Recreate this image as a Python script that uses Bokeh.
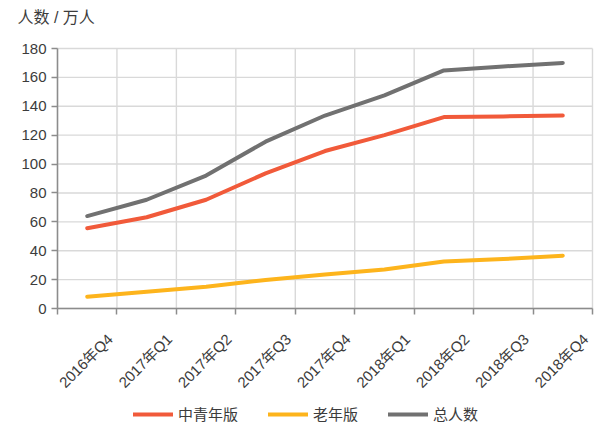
import math
from bokeh.plotting import figure
from bokeh.models import FixedTicker, Range1d, Legend, LegendItem, Label, LinearAxis
from bokeh.embed import file_html
from bokeh.resources import INLINE

quarters = ["2016年Q4", "2017年Q1", "2017年Q2", "2017年Q3", "2017年Q4",
            "2018年Q1", "2018年Q2", "2018年Q3", "2018年Q4"]
youth = [55.6, 63.2, 75.3, 93.5, 109, 120, 132.5, 133, 133.6]
senior = [8.2, 11.6, 15, 19.8, 23.5, 27, 32.5, 34.2, 36.5]
total = [64, 75.3, 92, 115.5, 133.6, 147.5, 164.8, 167.6, 170]
series_names = ["中青年版", "老年版", "总人数"]
colors = ["#F15A3A", "#FDB41C", "#717171"]
y_ticks = [0, 20, 40, 60, 80, 100, 120, 140, 160, 180]
y_title = "人数 / 万人"

FONT = "Liberation Sans, Noto Sans CJK SC"
TXT = "#3c3c3c"
GRID = "#d9d9d9"
AXIS = "#8c8c8c"

# layout (pixels)
W, H = 614, 427
PL, PR, PT, PB = 57, 592, 48, 308   # plot area edges
LABEL_SHIFT_PX = 7
n = len(quarters)
ymax = y_ticks[-1]
ppx = (PR - PL) / n
ppy = (PB - PT) / ymax
x_ticks = list(range(n + 1))

xs = [i + 0.5 for i in range(n)]

xl, xr = -PL / ppx, n + (W - PR) / ppx
p = figure(width=W, height=H, output_backend="svg", toolbar_location=None,
           x_range=Range1d(xl, xr),
           y_range=Range1d(-(H - PB) / ppy, ymax + PT / ppy),
           min_border=0)
p.title.visible = False
p.outline_line_color = None
p.background_fill_color = "white"
p.border_fill_color = "white"
p.grid.visible = False

# grid lines limited to the plot area
p.segment(x0=x_ticks, y0=[0] * len(x_ticks), x1=x_ticks, y1=[ymax] * len(x_ticks),
          line_color=GRID, line_width=1.4, level="underlay")
p.segment(x0=[0] * len(y_ticks), y0=y_ticks, x1=[n] * len(y_ticks), y1=y_ticks,
          line_color=GRID, line_width=1.4, level="underlay")

# axes
p.xaxis.fixed_location = 0
p.yaxis.fixed_location = 0
p.xaxis.bounds = (0, n)
p.yaxis.bounds = (0, ymax)
p.xaxis.ticker = FixedTicker(ticks=x_ticks)
p.xaxis.major_label_text_alpha = 0
p.yaxis.ticker = FixedTicker(ticks=y_ticks)

# separate label axis, shifted slightly left
shift = LABEL_SHIFT_PX / ppx
p.extra_x_ranges = {"lab": Range1d(xl + shift, xr + shift)}
lab_axis = LinearAxis(x_range_name="lab", fixed_location=0,
                      ticker=FixedTicker(ticks=x_ticks[1:]),
                      major_label_overrides={i + 1: q for i, q in enumerate(quarters)},
                      major_label_orientation=math.pi / 4,
                      axis_line_color=None, major_tick_line_color=None)
p.add_layout(lab_axis, "below")

for ax in (p.xaxis[0], p.yaxis[0], lab_axis):
    ax.major_tick_out = 6
    ax.major_tick_in = 0
    ax.minor_tick_line_color = None
    ax.major_label_text_font = FONT
    ax.major_label_text_font_size = "15px"
    ax.major_label_text_color = TXT
for ax in (p.xaxis[0], p.yaxis[0]):
    ax.axis_line_color = AXIS
    ax.axis_line_width = 1.5
    ax.major_tick_line_color = AXIS
    ax.major_tick_line_width = 1.5
p.yaxis.major_label_standoff = 5
lab_axis.major_label_standoff = 22

renderers = []
for vals, c in zip([youth, senior, total], colors):
    r = p.line(xs, vals, line_color=c, line_width=4, line_cap="round", line_join="round")
    renderers.append(r)

p.add_layout(Label(x=17, y=H - 17, x_units="screen", y_units="screen", text=y_title,
                   text_font=FONT, text_font_size="16px", text_color=TXT,
                   text_baseline="middle", text_align="left"))

legend = Legend(items=[LegendItem(label=nm, renderers=[r]) for nm, r in zip(series_names, renderers)],
                orientation="horizontal", location=(133, 3))
legend.label_text_font = FONT
legend.label_text_font_size = "15px"
legend.label_text_color = TXT
legend.glyph_width = 40
legend.glyph_height = 20
legend.label_height = 20
legend.label_standoff = 5
legend.spacing = 30
legend.border_line_color = None
legend.background_fill_alpha = 0
legend.margin = 0
legend.padding = 0
p.add_layout(legend, "center")

open("out.html", "w").write(file_html(p, INLINE))
